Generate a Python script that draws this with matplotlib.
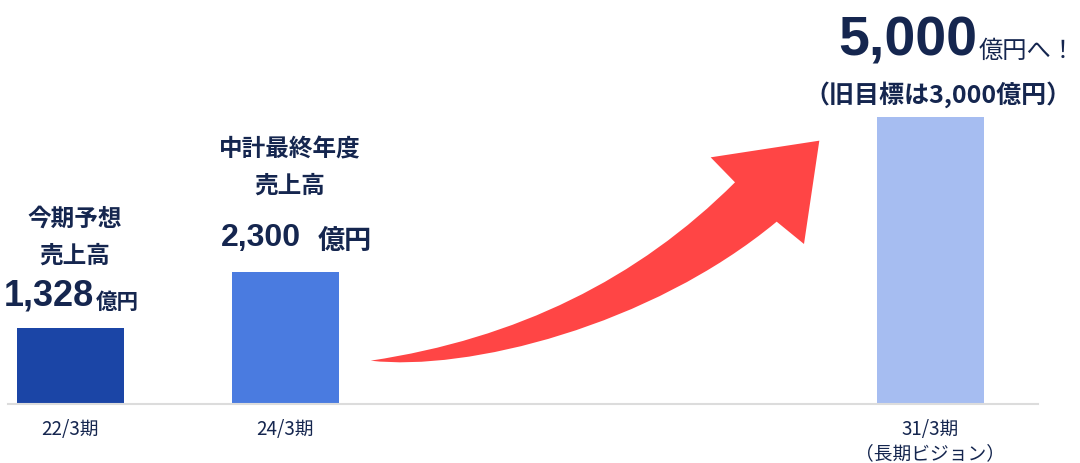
import matplotlib
matplotlib.use("Agg")
import matplotlib.pyplot as plt
from matplotlib.path import Path
from matplotlib.patches import PathPatch

# data
periods = ["22/3期", "24/3期", "31/3期\n（長期ビジョン）"]
positions = [0, 1, 4]
sales = [1328, 2300, 5000]
bar_colors = ["#1b45a6", "#4a7be0", "#a6bdf1"]

head_lines = [["今期予想", "売上高"], ["中計最終年度", "売上高"], []]
value_text = ["1,328", "2,300", "5,000"]
unit_text = ["億円", "億円", "億円へ！"]
old_target = "（旧目標は3,000億円）"

navy = "#15264f"
cjk = ["Noto Sans CJK JP", "DejaVu Sans"]
num_font = ["Liberation Sans", "Noto Sans CJK JP"]

W, H = 1080, 463
fig = plt.figure(figsize=(W / 100, H / 100), dpi=100)
ax = fig.add_axes([8 / W, (H - 404) / H, 1030 / W, 404 / H])

ax.bar(positions, sales, width=0.5, color=bar_colors, zorder=2)
ax.set_xlim(-0.29, 4.5)
ax.set_ylim(0, 7040)

for s in ["top", "left", "right"]:
    ax.spines[s].set_visible(False)
ax.spines["bottom"].set_color("#dcdcdc")
ax.spines["bottom"].set_linewidth(1.5)
ax.set_yticks([])
ax.set_xticks(positions)
ax.set_xticklabels(periods, fontfamily=cjk, fontsize=13.5, color=navy, linespacing=1.2, va="top")
ax.tick_params(axis="x", length=0, pad=11)


def px(v):
    # pixel offset -> points
    return v * 72 / 100


def label(x, y, s, dx, dy, **kw):
    ax.annotate(s, (x, y), xytext=(px(dx), px(dy)), textcoords="offset points",
                annotation_clip=False, color=navy, **kw)


# annotations above bars
head_dy = [[109, 72], [123, 86], []]
val_dy = [22, 26, 62]
split_dx = [24, 16, 47]
unit_gap = [1, 16, 1]
val_size = [26, 23, 40]
unit_size = [15.5, 19.5, 17.5]
unit_weight = ["bold", "bold", "normal"]

for i, x in enumerate(positions):
    y = sales[i]
    for line, dy in zip(head_lines[i], head_dy[i]):
        label(x, y, line, 4, dy, ha="center", va="center", fontsize=17,
              fontweight="bold", fontfamily=cjk)
    label(x, y, value_text[i], split_dx[i], val_dy[i], ha="right", va="baseline",
          fontsize=val_size[i], fontweight="bold", fontfamily=num_font)
    label(x, y, unit_text[i], split_dx[i] + unit_gap[i], val_dy[i] - 3, ha="left",
          va="baseline", fontsize=unit_size[i], fontweight=unit_weight[i], fontfamily=cjk)

label(positions[2], sales[2], old_target, 8, 22, ha="center", va="center",
      fontsize=18, fontweight="bold", fontfamily=cjk)


# curved red arrow (decoration), drawn in figure pixel coords
def fp(x, y):
    return ((350 + x / 3) / W, 1 - (120 + y / 3) / H)


verts = [
    fp(62, 722),
    fp(718, 624), fp(1155, 187),
    fp(1082, 112),
    fp(1408, 62),
    fp(1362, 372),
    fp(1280, 305),
    fp(900, 620), fp(350, 755), fp(62, 722),
]
codes = [Path.MOVETO, Path.CURVE3, Path.CURVE3, Path.LINETO, Path.LINETO,
         Path.LINETO, Path.LINETO, Path.CURVE4, Path.CURVE4, Path.CURVE4]
arrow = PathPatch(Path(verts, codes), facecolor="#ff4545", edgecolor="none",
                  transform=fig.transFigure, zorder=3)
fig.patches.append(arrow)

fig.savefig("out.png", dpi=100)
